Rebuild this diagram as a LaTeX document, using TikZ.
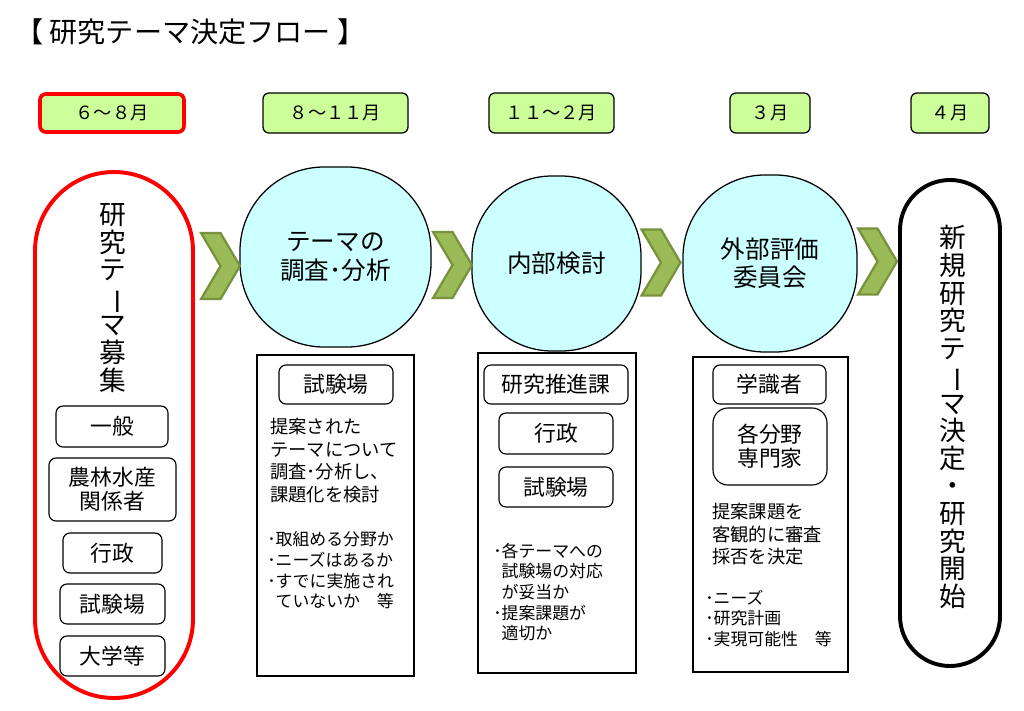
\documentclass[tikz,border=0pt]{standalone}
\usepackage{fontspec}
\setmainfont{Noto Sans CJK JP}
\usepackage{graphicx}
\usepackage{tikz}
\usetikzlibrary{shapes.symbols,positioning}
\definecolor{mygreen}{RGB}{204,255,153}
\definecolor{mycyan}{RGB}{204,255,255}
\definecolor{chevfill}{RGB}{155,187,89}
\definecolor{chevline}{RGB}{118,146,60}
\definecolor{myred}{RGB}{255,0,0}
\newcommand{\px}{0.025cm}
\newcommand{\vbar}{\rotatebox[origin=c]{-90}{ー}}

\begin{document}
\begin{tikzpicture}[x=\px, y=-\px,
    month/.style={draw, line width=0.9pt, fill=mygreen, rounded corners=6*\px, inner sep=0pt, font=\fontsize{13}{15}\selectfont},
    monthnow/.style={month, draw=myred, line width=2.6pt},
    blob/.style={draw, line width=0.9pt, fill=mycyan, inner sep=0pt, align=center, font=\fontsize{17.5}{20}\selectfont},
    panel/.style={draw, line width=0.8pt, inner sep=0pt},
    tag/.style={draw, line width=0.8pt, fill=white, rounded corners=7*\px, inner sep=0pt, align=center, font=\fontsize{15.5}{17}\selectfont},
    memo/.style={anchor=north west, inner sep=0pt, align=left, font=\fontsize{13}{16.1}\selectfont},
    bullets/.style={memo, font=\fontsize{12}{14.7}\selectfont},
    chev/.style={signal, signal to=east, signal from=west, signal pointer angle=119, fill=chevfill, draw=chevline, line width=1.6pt, minimum width=37*\px, minimum height=66*\px, inner sep=0pt},
    vtext/.style={align=center, inner sep=0pt, font=\fontsize{19}{19.6}\selectfont}]
  \useasboundingbox (0,0) rectangle (1024,710);
  % Title
  \node[anchor=west, inner sep=0pt, font=\fontsize{20}{24}\selectfont] (title) at (15,32) {【 研究テーマ決定フロー 】};
  % Months
  \node[monthnow, minimum width=144*\px, minimum height=38*\px] (m1) at (112,113) {６～８月};
  \foreach \n/\x/\w/\lbl in {m2/335.5/145/{８～１１月}, m3/551.5/125/{１１～２月}, m4/770/80/{３月}, m5/950/78/{４月}}{
    \node[month, minimum width=\w*\px, minimum height=40*\px] (\n) at (\x,113) {\lbl};
  }
  % Recruitment
  \node[draw=myred, line width=2.8pt, rounded corners=79*\px, minimum width=158*\px, minimum height=526*\px, inner sep=0pt] (recruit) at (114,435) {};
  \node[vtext] (recruittext) at (113,298) {研\\究\\テ\\\vbar\\マ\\募\\集};
  \node[tag, minimum width=112*\px, minimum height=41*\px] (general) at (112,426.5) {一般};
  \node[tag, minimum width=127*\px, minimum height=63*\px] (farmers) at (112.5,489.5) {農林水産\\関係者};
  \node[tag, minimum width=99*\px, minimum height=40*\px] (admin1) at (112.5,553) {行政};
  \node[tag, minimum width=105*\px, minimum height=40*\px] (station1) at (112.5,604) {試験場};
  \node[tag, minimum width=105*\px, minimum height=40*\px] (univ) at (112.5,656) {大学等};
  % Stages
  \node[blob, rounded corners=84*\px, minimum width=191*\px, minimum height=180*\px] (survey) at (335.5,257) {テーマの\\調査･分析};
  \node[blob, rounded corners=80*\px, minimum width=169*\px, minimum height=175*\px] (internal) at (556.5,263.5) {内部検討};
  \node[blob, rounded corners=82*\px, minimum width=174*\px, minimum height=177*\px] (external) at (770,263.5) {外部評価\\委員会};
  % Decision
  \node[draw, line width=2.8pt, rounded corners=50*\px, minimum width=100*\px, minimum height=486*\px, inner sep=0pt] (start) at (950,423) {};
  \node[vtext] (starttext) at (953,417) {新\\規\\研\\究\\テ\\\vbar\\マ\\決\\定\\・\\研\\究\\開\\始};
  % Chevrons
  \foreach \i/\x/\y in {1/220.5/266, 2/452.5/265, 3/661/262.5, 4/877.5/261.5}{
    \node[chev] (arrow\i) at (\x,\y) {};
  }
  % Survey panel
  \node[panel, minimum width=157*\px, minimum height=321*\px] (panel2) at (335.5,515.5) {};
  \node[tag, minimum width=114*\px, minimum height=39*\px] (station2) at (336,384.5) {試験場};
  \node[memo] (memo2) at (270,418) {提案された\\テーマについて\\調査･分析し、\\課題化を検討};
  \node[bullets] (check2) at (267,531.5) {･取組める分野か\\･ニーズはあるか\\･すでに実施され\\\hphantom{･}ていないか　等};
  % Internal panel
  \node[panel, minimum width=158*\px, minimum height=320*\px] (panel3) at (557,513) {};
  \node[tag, minimum width=144*\px, minimum height=39*\px] (division) at (556,384.5) {研究推進課};
  \node[tag, minimum width=114*\px, minimum height=41*\px] (admin3) at (556,433.5) {行政};
  \node[tag, minimum width=114*\px, minimum height=40*\px] (station3) at (556,487) {試験場};
  \node[bullets] (check3) at (493,542.5) {･各テーマへの\\\hphantom{･}試験場の対応\\\hphantom{･}が妥当か\\･提案課題が\\\hphantom{･}適切か};
  % External panel
  \node[panel, minimum width=155*\px, minimum height=315*\px] (panel4) at (770.5,514.5) {};
  \node[tag, minimum width=113*\px, minimum height=39*\px] (scholar) at (769.5,384.5) {学識者};
  \node[tag, rounded corners=15*\px, minimum width=114*\px, minimum height=77*\px] (expert) at (770,446.5) {各分野\\専門家};
  \node[memo, font=\fontsize{13}{16}\selectfont] (memo4) at (712,503) {提案課題を\\客観的に審査\\採否を決定};
  \node[bullets] (check4) at (705,589.5) {･ニーズ\\･研究計画\\･実現可能性　等};
\end{tikzpicture}
\end{document}
